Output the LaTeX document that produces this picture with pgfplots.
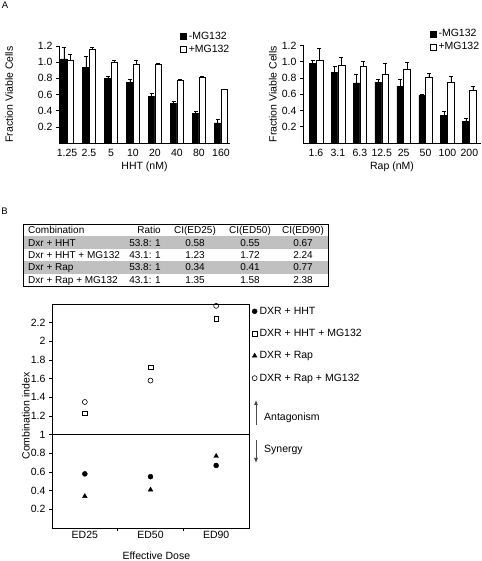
\documentclass[border=0pt]{standalone}
\usepackage{fontspec}
\setmainfont{Liberation Sans}
\usepackage{pgfplots}
\usepackage{pgfplotstable}
\pgfplotsset{compat=1.18}
\usetikzlibrary{arrows.meta}
\newcommand\fs{\fontsize{10.5}{12}\selectfont}
\definecolor{rowgray}{RGB}{192,192,192}

\pgfplotstableread{
x b be w we
0 1.04 0.15 1.02 0.08
1 0.94 0.13 1.16 0.02
2 0.80 0.02 1.00 0.02
3 0.75 0.04 0.97 0.05
4 0.58 0.03 0.98 0.005
5 0.49 0.03 0.78 0.01
6 0.37 0.02 0.82 0.01
7 0.25 0.04 0.66 0.01
}\hhtdata

\pgfplotstableread{
x b be w we
0 0.98 0.04 1.02 0.15
1 0.87 0.07 0.96 0.09
2 0.74 0.10 0.95 0.05
3 0.75 0.03 0.85 0.13
4 0.70 0.08 0.91 0.08
5 0.59 0.01 0.81 0.05
6 0.34 0.05 0.75 0.07
7 0.27 0.03 0.65 0.05
}\rapdata

\pgfplotsset{
  barchart/.style={
    anchor=south west, scale only axis,
    ymin=0, ymax=1.2,
    axis x line=bottom, axis y line=left,
    axis line style={-, black, line width=0.6pt},
    ybar=0pt,
    xtick={0,1,2,3,4,5,6,7},
    xtick style={draw=none},
    ytick={0.2,0.4,0.6,0.8,1.0,1.2},
    yticklabel style={/pgf/number format/.cd, fixed, fixed zerofill, precision=1},
    tick align=outside, major tick length=3pt,
    ytick style={black, line width=0.5pt},
    /pgf/number format/assume math mode=true,
    tick label style={font=\fs},
    label style={font=\fs},
    legend style={draw=none, fill=none, font=\fs, anchor=north west,
      row sep=3pt, inner sep=0pt, nodes={inner xsep=2.5pt, inner ysep=0.5pt}},
    legend cell align=left,
    legend image code/.code={\draw[#1, draw=black, line width=0.5pt] (0pt,-3pt) rectangle (6pt,3pt);},
    error bars/y dir=plus, error bars/y explicit,
    error bars/error bar style={black, line width=0.5pt},
    error bars/error mark options={rotate=90, mark size=2pt, black, line width=0.5pt},
  }
}

\begin{document}
\begin{tikzpicture}
\path[use as bounding box] (0pt,0pt) rectangle (481pt,561pt);

% ---- Panel A left: HHT
\begin{axis}[barchart,
  at={(59pt,418pt)}, width=171pt, height=97pt,
  xmin=-0.364, xmax=7.41, bar width=6.5pt,
  xticklabels={1.25,2.5,5,10,20,40,80,160},
  xlabel={HHT (nM)}, ylabel={Fraction Viable Cells},
  xlabel style={at={(axis description cs:0.5,-0.247)}, anchor=center},
  ylabel style={at={(axis description cs:-0.292,0.5)}, anchor=center},
  legend style={at={(0.705,1.15)}},
]
\addplot[fill=black, draw=black, line width=0.4pt] table[x=x, y=b, y error=be] {\hhtdata};
\addplot[fill=white, draw=black, line width=0.4pt] table[x=x, y=w, y error=we] {\hhtdata};
\legend{-MG132, +MG132}
\end{axis}

% ---- Panel A right: Rap
\begin{axis}[barchart,
  at={(303pt,418pt)}, width=178pt, height=97.5pt,
  xmin=-0.594, xmax=7.53, bar width=6.8pt,
  xticklabels={1.6,3.1,6.3,12.5,25,50,100,200},
  xlabel={Rap (nM)}, ylabel={Fraction Viable Cells},
  xlabel style={at={(axis description cs:0.5,-0.246)}, anchor=center},
  ylabel style={at={(axis description cs:-0.169,0.5)}, anchor=center},
  legend style={at={(0.71,1.17)}},
]
\addplot[fill=black, draw=black, line width=0.4pt] table[x=x, y=b, y error=be] {\rapdata};
\addplot[fill=white, draw=black, line width=0.4pt] table[x=x, y=w, y error=we] {\rapdata};
\legend{-MG132, +MG132}
\end{axis}

% ---- Panel labels
\node[font=\fontsize{9.5}{10}\selectfont] at (5pt,555.5pt) {A};
\node[font=\fontsize{9.5}{10}\selectfont] at (4.5pt,349.5pt) {B};

% ---- Table
\fill[rowgray] (23pt,324.6pt) rectangle (328pt,312.2pt);
\fill[rowgray] (23pt,299.8pt) rectangle (328pt,287.4pt);
\draw[black, line width=0.6pt] (23pt,275pt) rectangle (328pt,337pt);
\begin{scope}[every node/.style={font=\fontsize{10}{12}\selectfont, inner sep=0pt, text height=7pt, text depth=0pt}]
\node[anchor=west] at (28pt,330.8pt) {Combination};
\node[anchor=east] at (161pt,330.8pt) {Ratio};
\node at (195pt,330.8pt) {CI(ED25)};
\node at (250pt,330.8pt) {CI(ED50)};
\node at (303pt,330.8pt) {CI(ED90)};
\node[anchor=west] at (28pt,318.4pt) {Dxr + HHT};
\node[anchor=east] at (161pt,318.4pt) {53.8: 1};
\node at (195pt,318.4pt) {0.58};
\node at (250pt,318.4pt) {0.55};
\node at (303pt,318.4pt) {0.67};
\node[anchor=west] at (28pt,306pt) {Dxr + HHT + MG132};
\node[anchor=east] at (161pt,306pt) {43.1: 1};
\node at (195pt,306pt) {1.23};
\node at (250pt,306pt) {1.72};
\node at (303pt,306pt) {2.24};
\node[anchor=west] at (28pt,293.6pt) {Dxr + Rap};
\node[anchor=east] at (161pt,293.6pt) {53.8: 1};
\node at (195pt,293.6pt) {0.34};
\node at (250pt,293.6pt) {0.41};
\node at (303pt,293.6pt) {0.77};
\node[anchor=west] at (28pt,281.2pt) {Dxr + Rap + MG132};
\node[anchor=east] at (161pt,281.2pt) {43.1: 1};
\node at (195pt,281.2pt) {1.35};
\node at (250pt,281.2pt) {1.58};
\node at (303pt,281.2pt) {2.38};
\end{scope}

% ---- Panel B chart
\begin{axis}[
  at={(52pt,33pt)}, anchor=south west, scale only axis,
  width=197pt, height=224pt,
  xmin=-0.5, xmax=2.5, ymin=0, ymax=2.4,
  clip=false,
  axis line style={black, line width=0.6pt},
  tick pos=left,
  xtick={0.5,1.5}, xticklabels={},
  extra x ticks={0,1,2}, extra x tick labels={ED25,ED50,ED90},
  extra x tick style={major tick length=0pt},
  ytick={0.2,0.4,0.6,0.8,1,1.2,1.4,1.6,1.8,2,2.2},
  tick align=outside, major tick length=3pt,
  tick style={black, line width=0.5pt},
  /pgf/number format/assume math mode=true,
  tick label style={font=\fs},
  label style={font=\fs},
  xlabel={Effective Dose}, ylabel={Combination index},
  xlabel style={at={(axis description cs:0.53,-0.1256)}, anchor=center},
  ylabel style={at={(axis description cs:-0.132,0.5)}, anchor=center},
  legend style={draw=none, fill=none, font=\fs, at={(1.015,0.99)}, anchor=north west,
    row sep=12.5pt, inner sep=0pt, nodes={inner xsep=2.5pt, inner ysep=0.5pt}},
  legend cell align=left,
  legend image code/.code={\draw[mark repeat=2,mark phase=2,#1] plot coordinates {(0pt,0pt) (3pt,0pt) (6pt,0pt)};},
]
\addplot[only marks, mark=*, mark size=2.5pt, black] coordinates {(0,0.58) (1,0.55) (2,0.67)};
\addplot[only marks, mark=square, mark size=2.3pt, black, mark options={line width=0.6pt}] coordinates {(0,1.23) (1,1.72) (2,2.24)};
\addplot[only marks, mark=triangle*, mark size=2.7pt, black] coordinates {(0,0.34) (1,0.41) (2,0.77)};
\addplot[only marks, mark=o, mark size=2.5pt, black, mark options={line width=0.6pt}] coordinates {(0,1.35) (1,1.58) (2,2.38)};
\addplot[black, line width=0.6pt, forget plot] coordinates {(-0.5,1) (2.5,1)};
\legend{DXR + HHT, DXR + HHT + MG132, DXR + Rap, DXR + Rap + MG132}
\end{axis}

% ---- Antagonism / Synergy annotations
\draw[gray!60!black, line width=0.8pt, -{Latex[length=5pt,width=4pt,fill=black]}] (256pt,136pt) -- (256pt,161pt);
\draw[gray!60!black, line width=0.8pt, -{Latex[length=5pt,width=4pt,fill=black]}] (256pt,121pt) -- (256pt,98pt);
\node[anchor=west, font=\fs, inner sep=0pt] at (264pt,143pt) {Antagonism};
\node[anchor=west, font=\fs, inner sep=0pt] at (264pt,111pt) {Synergy};
\end{tikzpicture}
\end{document}
